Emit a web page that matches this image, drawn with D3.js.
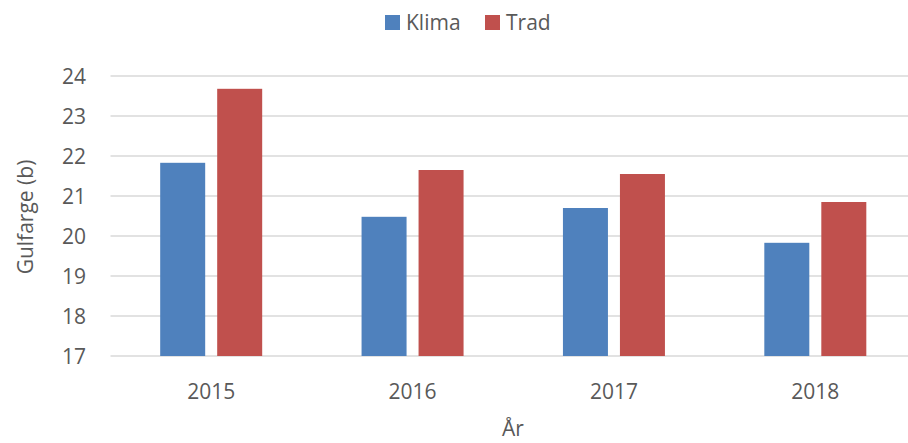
<!DOCTYPE html>
<html><head><meta charset="utf-8">
<script src="https://cdn.jsdelivr.net/npm/d3@7"></script>
<style>body{margin:0;background:#fff;} svg{display:block;} text{font-family:"Open Sans",sans-serif;fill:#595959;}</style>
</head><body>
<svg id="c" width="908" height="443"></svg>
<script>
const categories = ["2015","2016","2017","2018"];
const seriesNames = ["Klima","Trad"];
const klima = [21.83, 20.48, 20.70, 19.83];
const trad = [23.68, 21.65, 21.55, 20.85];
const yTicks = [17,18,19,20,21,22,23,24];
const colors = ["#4f81bd","#c0504d"];

(function(){
const svg = d3.select("#c");
const pLeft = 110.5, pRight = 916, pTop = 76, pBottom = 356;
const fs = "21px";
const x = d3.scaleBand().domain(categories).range([pLeft, pRight]);
const x1 = d3.scaleBand().domain(seriesNames).range([0, 102]).paddingInner(0.2105);
const y = d3.scaleLinear().domain([17,24]).range([pBottom, pTop]);

// gridlines
svg.append("g").selectAll("line").data(yTicks).join("line")
  .attr("x1", pLeft).attr("x2", 908).attr("y1", d=>y(d)).attr("y2", d=>y(d))
  .attr("stroke", "#d9d9d9").attr("stroke-width", 1.5);

// y labels
const yAxis = d3.axisLeft(y).tickValues(yTicks).tickFormat(d3.format("d")).tickSize(0).tickPadding(0);
const ya = svg.append("g").attr("transform", `translate(86,0)`).call(yAxis);
ya.select(".domain").remove();
ya.selectAll("text").style("font-size",fs).attr("fill","#595959").attr("dy","0.36em");

// x labels
const xAxis = d3.axisBottom(x).tickSize(0).tickPadding(0);
const xa = svg.append("g").attr("transform", `translate(0,${pBottom})`).call(xAxis);
xa.select(".domain").remove();
xa.selectAll("text").style("font-size",fs).attr("fill","#595959").attr("y", 43).attr("dy", null);

// bars
const data = categories.map((c,i)=>({c, vals:[klima[i], trad[i]]}));
const groups = svg.append("g").selectAll("g").data(data).join("g")
  .attr("transform", d=>`translate(${x(d.c) + x.bandwidth()/2 - 51},0)`);
groups.selectAll("rect").data(d=>d.vals.map((v,j)=>({s:seriesNames[j], v, j}))).join("rect")
  .attr("x", d=>x1(d.s)).attr("width", x1.bandwidth())
  .attr("y", d=>y(d.v)).attr("height", d=>pBottom - y(d.v))
  .attr("fill", d=>colors[d.j]);

// axis titles
svg.append("text").attr("x", 513).attr("y", 436).attr("text-anchor","middle")
  .style("font-size",fs).text("År");
svg.append("text").attr("transform","translate(33,217) rotate(-90)").attr("text-anchor","middle")
  .style("font-size","21px").text("Gulfarge (b)");

// legend
const leg = svg.append("g");
const legX = [385, 485];
seriesNames.forEach((s,i)=>{
  leg.append("rect").attr("x", legX[i]).attr("y", 15).attr("width", 15).attr("height", 15).attr("fill", colors[i]);
  leg.append("text").attr("x", legX[i]+21).attr("y", 30).style("font-size",fs).text(s);
});
})();
</script>
</body></html>
